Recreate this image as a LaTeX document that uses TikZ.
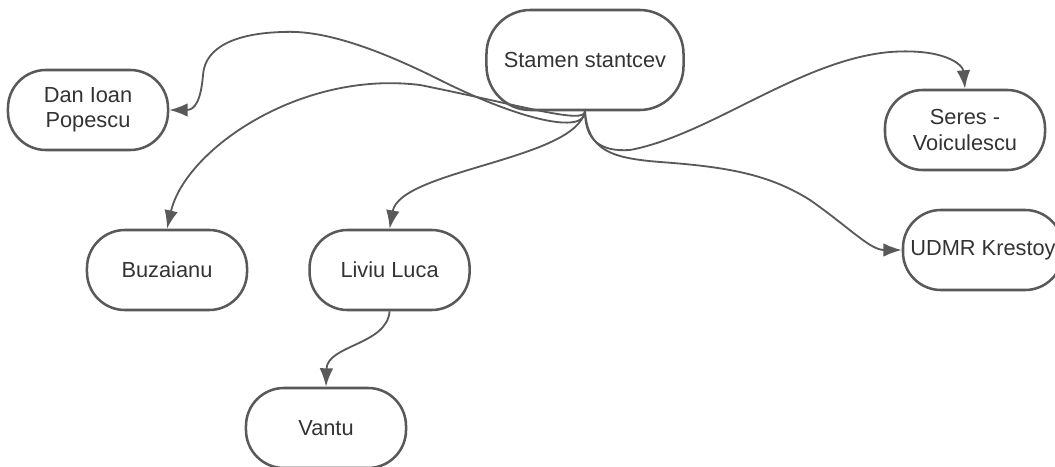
\documentclass[tikz,border=0pt]{standalone}
\usepackage{fontspec}
\setmainfont{Liberation Sans}
\usepackage{xcolor}
\usetikzlibrary{arrows.meta,positioning}
\definecolor{edgegray}{HTML}{595959}
\definecolor{textgray}{HTML}{333333}

\begin{document}
\begin{tikzpicture}[x=0.025cm, y=-0.025cm, >={Latex[length=4.6mm,width=3.4mm]},
  person/.style={draw=edgegray, line width=1.8pt, rounded corners=0.95cm,
    minimum width=4cm, minimum height=2cm, align=center, text=textgray,
    font=\fontsize{15.5}{18}\selectfont},
  link/.style={->, draw=edgegray, line width=1.3pt}]
  \useasboundingbox (0,0) rectangle (1055,467);
  \node[person, minimum width=4.925cm, minimum height=2.5cm, rounded corners=1.1cm] (stamen) at (585,60) {Stamen stantcev};
  \node[person] (dan) at (88,110) {Dan Ioan\\Popescu};
  \node[person] (seres) at (965,130) {Seres -\\Voiculescu};
  \node[person] (udmr) at (983,250) {UDMR Krestoy};
  \node[person] (buzaianu) at (167,270) {Buzaianu};
  \node[person, right=1.5cm of buzaianu] (liviu) {Liviu Luca};
  \node[person] (vantu) at (326,428) {Vantu};

  % links out of the top node
  \draw[link] (stamen.south) .. controls (585,135) and (520,120) .. (440,80)
    .. controls (370,45) and (320,30) .. (283,32)
    .. controls (240,33) and (205,45) .. (203,75)
    .. controls (201,100) and (195,110) .. (dan.east);
  \draw[link] (stamen.south) .. controls (585,125) and (520,105) .. (420,85)
    .. controls (300,70) and (185,150) .. (buzaianu.north);
  \draw[link] (stamen.south) .. controls (575,160) and (400,170) .. (liviu.north);
  \draw[link] (stamen.south) .. controls (585,140) and (600,152) .. (630,150)
    .. controls (710,135) and (800,60) .. (890,52)
    .. controls (945,48) and (963,65) .. (seres.north);
  \draw[link] (stamen.south) .. controls (588,150) and (610,158) .. (660,162)
    .. controls (730,167) and (770,175) .. (810,200)
    .. controls (850,228) and (870,250) .. (udmr.west);
  \draw[link] (liviu.south) .. controls (387,345) and (327,345) .. (vantu.north);
\end{tikzpicture}
\end{document}
